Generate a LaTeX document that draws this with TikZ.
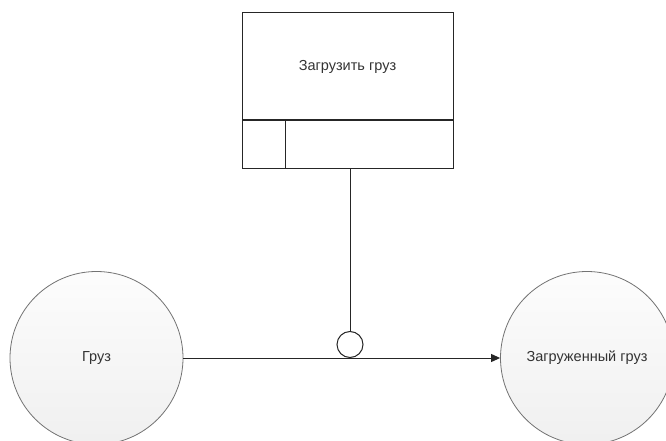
\documentclass[tikz,border=0pt]{standalone}
\usepackage{fontspec}
\setmainfont{Liberation Sans}
\usetikzlibrary{arrows.meta,positioning}

\begin{document}
\begin{tikzpicture}[x=1pt,y=-1pt,line width=1pt,
  every node/.style={font=\fontsize{14.5}{17}\selectfont,text=black!80},
  state/.style={draw=gray!90!black,line width=0.8pt,circle,minimum size=173pt,inner sep=0pt,top color=gray!2,bottom color=gray!12},
  box/.style={draw=black!85,rectangle,inner sep=0pt}]

\useasboundingbox (0,0) rectangle (666,441);
\clip (0,0) rectangle (666,441);

\node[box,minimum width=211pt,minimum height=107pt] (proc) at (347.5,66.5) {Загрузить груз};

\node[box,minimum width=211pt,minimum height=47pt,anchor=north] (strip) at (proc.south) {};

\node[box,minimum width=43pt,minimum height=47pt,anchor=north west] (cell) at (proc.south west) {};

\node[state] (gruz) at (96.5,358) {Груз};

\node[state] (zgruz) at (587,358) {Загруженный груз};

\node[draw=black!85,circle,minimum size=26pt,inner sep=0pt,anchor=south] (ctrl) at (350,358) {};

\draw[black!85] (ctrl.north |- strip.south) -- (ctrl.north);
\draw[black!85,-{Triangle[length=9pt,width=8pt]}] (gruz) -- (zgruz);

\end{tikzpicture}
\end{document}
